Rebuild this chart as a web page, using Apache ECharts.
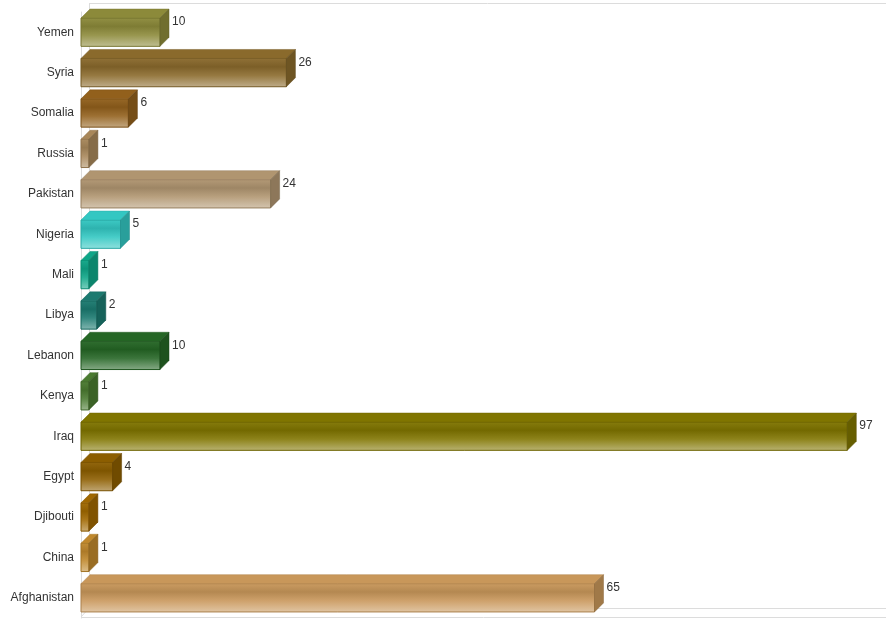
<!DOCTYPE html>
<html>
<head>
<meta charset="utf-8">
<script src="https://cdn.jsdelivr.net/npm/echarts@6/dist/echarts.min.js"></script>
<style>html,body{margin:0;padding:0;background:#fff;}#c{width:886px;height:623px;}</style>
</head>
<body>
<div id="c"></div>
<script>
var categories = ['Afghanistan','China','Djibouti','Egypt','Iraq','Kenya','Lebanon','Libya','Mali','Nigeria','Pakistan','Russia','Somalia','Syria','Yemen'];
var values = [65, 1, 1, 4, 97, 1, 10, 2, 1, 5, 24, 1, 6, 26, 10];
var barColors = ['#c8975a','#c0882c','#a06800','#8c5e00','#807500','#4a7a30','#256625','#1b7a70','#0ea687','#33c7c2','#b09570','#a8875a','#92601c','#8a6a2c','#8c8a3a'];

var chart = echarts.init(document.getElementById('c'), null, {renderer: 'canvas'});
function rgb(c) { return [parseInt(c.substr(1,2),16), parseInt(c.substr(3,2),16), parseInt(c.substr(5,2),16)]; }
function darker(c, k) { var a = rgb(c).map(function (v) { return Math.round(v * (1 - k)); }); return 'rgb(' + a.join(',') + ')'; }
function lighter(c, k) { var a = rgb(c).map(function (v) { return Math.round(v + (255 - v) * k); }); return 'rgb(' + a.join(',') + ')'; }
var data = values.map(function (v, i) { return [v, i]; });

function renderItem(params, api) {
  var idx = api.value(1), val = api.value(0);
  var s = api.coord([0, idx]), e = api.coord([val, idx]);
  var band = api.size([0, 1])[1];
  var h = band * 0.7;
  var x0 = s[0], x1 = e[0];
  var y0 = s[1] - h / 2, y1 = y0 + h;
  var d = 9;
  var c = barColors[idx];
  var front = new echarts.graphic.LinearGradient(0, 0, 0, 1, [
    {offset: 0, color: lighter(c, 0.05)},
    {offset: 0.3, color: darker(c, 0.1)},
    {offset: 0.6, color: lighter(c, 0.1)},
    {offset: 1, color: lighter(c, 0.45)}
  ]);
  return {
    type: 'group',
    children: [
      {type: 'rect', shape: {x: x0, y: y0, width: x1 - x0, height: h},
       style: {fill: front, stroke: darker(c, 0.15), lineWidth: 1}},
      {type: 'polygon', shape: {points: [[x0, y0], [x0 + d, y0 - d], [x1 + d, y0 - d], [x1, y0]]},
       style: {fill: c, stroke: darker(c, 0.12), lineWidth: 0.5}},
      {type: 'polygon', shape: {points: [[x1, y0], [x1 + d, y0 - d], [x1 + d, y1 - d], [x1, y1]]},
       style: {fill: darker(c, 0.2), stroke: darker(c, 0.3), lineWidth: 0.5}},
      {type: 'text', style: {x: x1 + d + 3, y: y0 + 4, text: String(val), fill: '#333',
        font: '12px "Liberation Sans", Arial, sans-serif', verticalAlign: 'middle', align: 'left'}}
    ]
  };
}

var lineStyle = {stroke: '#dcdcdc', lineWidth: 1};
chart.setOption({
  animation: false,
  grid: {left: 81, top: 12, height: 606, right: 15},
  graphic: [
    {type: 'line', shape: {x1: 89, y1: 3.5, x2: 886, y2: 3.5}, style: lineStyle, z: -1},
    {type: 'line', shape: {x1: 89.5, y1: 3, x2: 89.5, y2: 608}, style: lineStyle, z: -1},
    {type: 'line', shape: {x1: 89, y1: 608.5, x2: 886, y2: 608.5}, style: lineStyle, z: -1},
    {type: 'line', shape: {x1: 81, y1: 617.5, x2: 886, y2: 617.5}, style: lineStyle, z: -1},
    {type: 'line', shape: {x1: 81, y1: 617, x2: 89, y2: 608}, style: lineStyle, z: -1}
  ],
  xAxis: {type: 'value', min: 0, max: 100, show: false},
  yAxis: {type: 'category', data: categories,
    axisLine: {show: true, lineStyle: {color: '#dcdcdc'}},
    axisTick: {show: false},
    axisLabel: {color: '#333', fontSize: 12, fontFamily: '"Liberation Sans", Arial, sans-serif', margin: 7},
    splitLine: {show: false}},
  series: [{type: 'custom', renderItem: renderItem, data: data, encode: {x: 0, y: 1}}]
});
</script>
</body>
</html>
